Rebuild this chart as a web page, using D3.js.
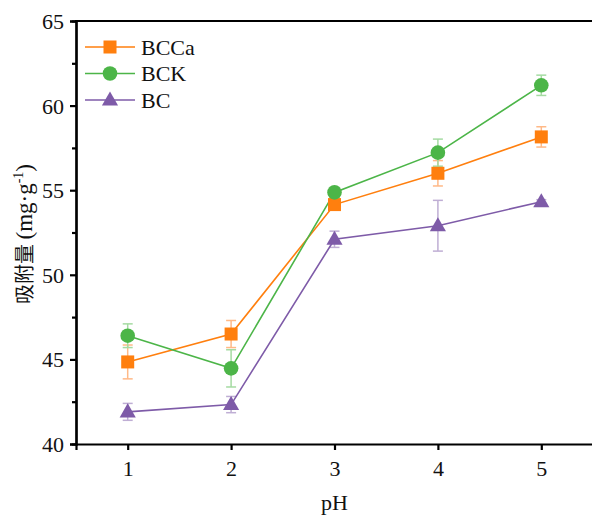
<!DOCTYPE html>
<html><head><meta charset="utf-8">
<script src="https://cdn.jsdelivr.net/npm/d3@7"></script>
<style>body{margin:0;background:#fff}svg{display:block}</style>
</head><body>
<svg id="c" width="592" height="516"></svg>
<script>
const pH = [1, 2, 3, 4, 5];
const seriesNames = ["BCCa", "BCK", "BC"];
const bccaVals = [44.85, 46.5, 54.15, 56.0, 58.15];
const bccaErr  = [1.0, 0.8, 0.3, 0.75, 0.6];
const bckVals  = [46.4, 44.47, 54.87, 57.22, 61.2];
const bckErr   = [0.7, 1.1, 0.3, 0.8, 0.6];
const bcVals   = [41.9, 42.33, 52.1, 52.9, 54.32];
const bcErr    = [0.5, 0.48, 0.48, 1.5, 0.12];
const yTicks = [40, 45, 50, 55, 60, 65];
const yMinor = [42.5, 47.5, 52.5, 57.5, 62.5];
const colors = ["#FF7F0E", "#4CB548", "#7E5BA8"];
const errColors = ["#FFB987", "#A5DBA2", "#BFAED4"];
const shapes = ["square", "circle", "triangle"];

const svg = d3.select("#c");
const x = d3.scaleLinear().domain([0.5, 5.5]).range([76, 593]);
const y = d3.scaleLinear().domain([40, 65]).range([444, 21]);
const serif = "'Liberation Serif','Times New Roman',serif";

const data = [
  {name: seriesNames[0], vals: bccaVals, err: bccaErr},
  {name: seriesNames[1], vals: bckVals, err: bckErr},
  {name: seriesNames[2], vals: bcVals, err: bcErr}
];

function marker(g, shape, cx, cy, color) {
  if (shape === "square") {
    g.append("rect").attr("x", cx - 6.5).attr("y", cy - 6.5).attr("width", 13).attr("height", 13).attr("fill", color);
  } else if (shape === "circle") {
    g.append("circle").attr("cx", cx).attr("cy", cy).attr("r", 7.3).attr("fill", color);
  } else {
    const s = 8.5;
    g.append("path").attr("d", `M${cx},${cy - s}L${cx + s * 0.95},${cy + s * 0.65}L${cx - s * 0.95},${cy + s * 0.65}Z`).attr("fill", color);
  }
}

// error bars
data.forEach((d, i) => {
  const g = svg.append("g");
  pH.forEach((p, j) => {
    const cx = x(p), y1 = y(d.vals[j] + d.err[j]), y2 = y(d.vals[j] - d.err[j]);
    g.append("line").attr("x1", cx).attr("x2", cx).attr("y1", y1).attr("y2", y2).attr("stroke", errColors[i]).attr("stroke-width", 1.5);
    [y1, y2].forEach(yy => g.append("line").attr("x1", cx - 5).attr("x2", cx + 5).attr("y1", yy).attr("y2", yy).attr("stroke", errColors[i]).attr("stroke-width", 1.5));
  });
});
// lines
data.forEach((d, i) => {
  const line = d3.line().x((v, j) => x(pH[j])).y(v => y(v));
  svg.append("path").datum(d.vals).attr("d", line).attr("fill", "none").attr("stroke", colors[i]).attr("stroke-width", 1.6);
});
// markers
data.forEach((d, i) => {
  const g = svg.append("g");
  pH.forEach((p, j) => marker(g, shapes[i], x(p), y(d.vals[j]), colors[i]));
});

// axes
const xAxis = d3.axisBottom(x).tickValues(pH).tickSize(6).tickPadding(10).tickFormat(d3.format("d"));
const gx = svg.append("g").attr("transform", "translate(0,444)").call(xAxis);
const yAxis = d3.axisLeft(y).tickValues(yTicks).tickSize(6).tickPadding(6);
const gy = svg.append("g").attr("transform", "translate(76,0)").call(yAxis);
const yAxisMinor = d3.axisLeft(y).tickValues(yMinor).tickSize(4).tickFormat("");
const gy2 = svg.append("g").attr("transform", "translate(76,0)").call(yAxisMinor);
[gx, gy, gy2].forEach(g => {
  g.select(".domain").attr("stroke", "#000").attr("stroke-width", 2.2);
  g.selectAll(".tick line").attr("stroke", "#000").attr("stroke-width", 2.2);
  g.selectAll("text").attr("font-family", serif).attr("font-size", 22).attr("fill", "#111");
});
gy.selectAll("text").attr("dy", "0.34em");
// top border
svg.append("line").attr("x1", 75).attr("x2", 592).attr("y1", 21).attr("y2", 21).attr("stroke", "#000").attr("stroke-width", 2.2);

// axis titles
svg.append("text").attr("x", x(3)).attr("y", 510).attr("text-anchor", "middle")
  .attr("font-family", serif).attr("font-size", 22).attr("fill", "#111").text("pH");
const yt = svg.append("text").attr("transform", "translate(32,234) rotate(-90)").attr("text-anchor", "middle")
  .attr("font-size", 23).attr("fill", "#111");
yt.append("tspan").attr("font-family", "'Noto Sans CJK SC'").attr("font-size", 20).text("吸附量 ");
yt.append("tspan").attr("font-family", serif).text("(mg·g");
yt.append("tspan").attr("font-family", serif).attr("font-size", 14).attr("dy", -9).text("-1");
yt.append("tspan").attr("font-family", serif).attr("dy", 9).text(")");

// legend
const leg = svg.append("g");
seriesNames.forEach((n, i) => {
  const ly = 47 + i * 26.5;
  leg.append("line").attr("x1", 85).attr("x2", 135).attr("y1", ly).attr("y2", ly).attr("stroke", colors[i]).attr("stroke-width", 1.6);
  marker(leg, shapes[i], 110, ly, colors[i]);
  leg.append("text").attr("x", 141).attr("y", ly + 7.5).attr("font-family", serif).attr("font-size", 22).attr("fill", "#111").text(n);
});
</script>
</body></html>
